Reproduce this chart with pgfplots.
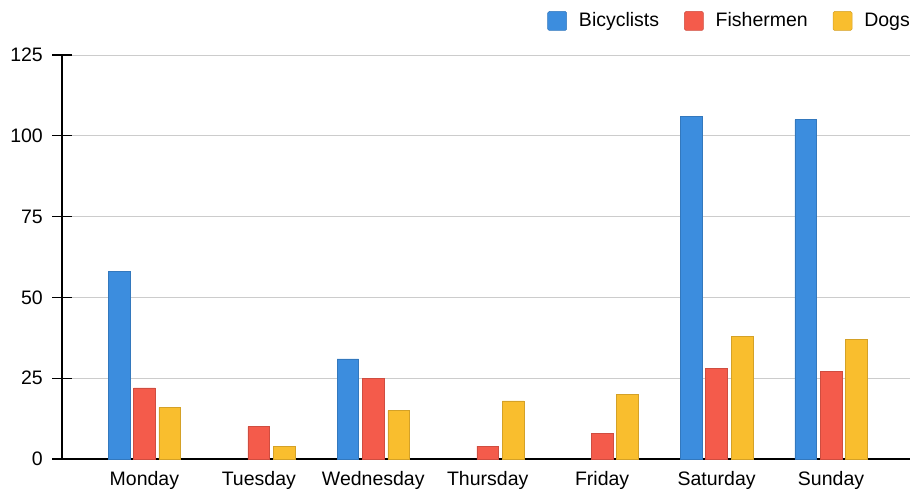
\documentclass[border=0pt]{standalone}
\usepackage{pgfplots}
\pgfplotsset{compat=1.18}
\usepackage{fontspec}
\setmainfont{Liberation Sans}
\definecolor{cblue}{HTML}{3C8DDE}
\definecolor{cred}{HTML}{F45B4B}
\definecolor{cyellow}{HTML}{F9BE2E}
\begin{document}
\fontsize{19.5}{22}\selectfont
\begin{tikzpicture}[x=1pt,y=1pt]
\useasboundingbox (0,0) rectangle (914,491);
\begin{axis}[
  at={(62pt,32pt)}, anchor=south west,
  scale only axis, width=848pt, height=404pt,
  ymin=0, ymax=125, ytick={0,25,...,125},
  xmin=-0.72, xmax=6.69,
  xtick={0,...,6},
  xticklabels={Monday,Tuesday,Wednesday,Thursday,Friday,Saturday,Sunday},
  /pgf/number format/assume math mode=true,
  ticklabel style={font=\fontsize{19.5}{22}\selectfont},
  axis x line*=bottom, axis y line*=left,
  axis line style={-, black, line width=1.2pt},
  ymajorgrids, major grid style={gray!40, line width=0.7pt},
  xtick style={draw=none},
  ytick style={black, line width=1.1pt},
  major tick length=19pt, tick align=center,
  yticklabel style={anchor=east, xshift=-3pt},
  xticklabel style={yshift=13pt},
  ybar, bar width=0.19,
  legend style={draw=none, fill=none, at={(axis description cs:1.0,1.0)}, anchor=east, yshift=34pt, xshift=5pt,
    legend columns=3, font=\fontsize{19.5}{22}\selectfont,
    /tikz/every odd column/.append style={column sep=10pt},
    /tikz/every even column/.append style={column sep=23pt}},
  legend image code/.code={\fill[#1, rounded corners=1.5pt] (0pt,-9.5pt) rectangle (19pt,9.5pt);},
]
\addplot[fill=cblue, draw=cblue!85!black, line width=0.5pt, bar shift=-0.222] coordinates {(0,58) (2,31) (5,106) (6,105)};
\addplot[fill=cred, draw=cred!85!black, line width=0.5pt, bar shift=0] coordinates {(0,22) (1,10) (2,25) (3,4) (4,8) (5,28) (6,27)};
\addplot[fill=cyellow, draw=cyellow!85!black, line width=0.5pt, bar shift=0.222] coordinates {(0,16) (1,4) (2,15) (3,18) (4,20) (5,38) (6,37)};
\legend{Bicyclists, Fishermen, Dogs}
\end{axis}
\end{tikzpicture}
\end{document}
